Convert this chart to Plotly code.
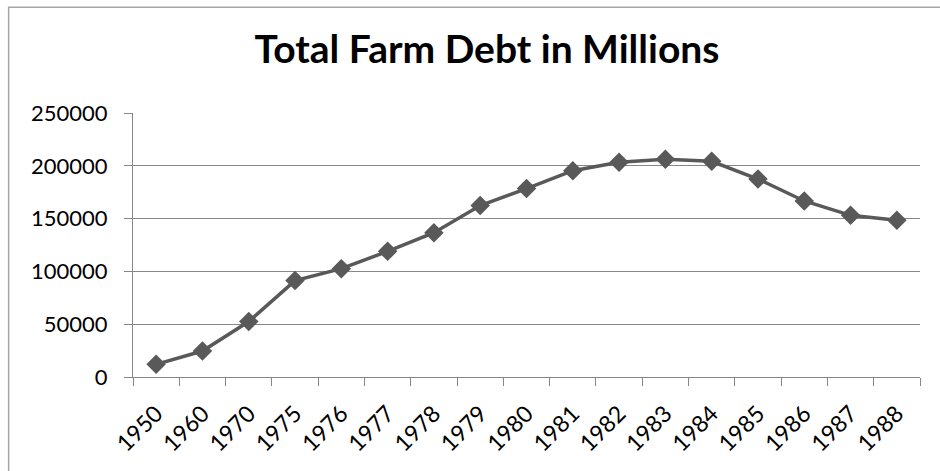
import plotly.graph_objects as go

years = ["1950", "1960", "1970", "1975", "1976", "1977", "1978", "1979", "1980",
         "1981", "1982", "1983", "1984", "1985", "1986", "1987", "1988"]
debt = [12000, 24600, 52500, 91300, 102600, 119000, 136700, 162300, 178400,
        195400, 203300, 206100, 204200, 187500, 166700, 153100, 148400]
y_ticks = [0, 50000, 100000, 150000, 200000, 250000]

W, H = 940, 471
L, R, T, B = 133.3, 920, 112.7, 376.7

fig = go.Figure()
fig.add_trace(go.Scatter(
    x=years, y=debt, mode="lines+markers",
    line=dict(color="#595959", width=3.5),
    marker=dict(symbol="diamond", size=15, color="#595959"),
    showlegend=False, hoverinfo="x+y",
))

axis_gray = "#878787"
fig.update_layout(
    width=W, height=H,
    margin=dict(l=L, r=W - R, t=T, b=H - B, pad=0),
    paper_bgcolor="white", plot_bgcolor="white",
    font=dict(family="Lato", size=22, color="black"),
    title=dict(text="<b>Total Farm Debt in Millions</b>",
               font=dict(family="Lato", size=39, color="black"),
               x=487 / W, xanchor="center", xref="container",
               y=1 - 49 / H, yanchor="middle", yref="container"),
    xaxis=dict(type="category", tickangle=-45, tickson="boundaries",
               ticks="outside", ticklen=8, tickcolor=axis_gray,
               showline=True, linecolor=axis_gray, linewidth=1.3,
               showgrid=False, zeroline=False, ticklabelstandoff=13,
               tickfont=dict(family="Lato", size=23, color="black"),
               range=[-0.5, len(years) - 0.5]),
    yaxis=dict(range=[0, 250000], tickvals=y_ticks,
               ticktext=[str(v) for v in y_ticks],
               ticks="outside", ticklen=8, tickcolor=axis_gray,
               showline=True, linecolor=axis_gray, linewidth=1.3,
               showgrid=True, gridcolor=axis_gray, gridwidth=1.3,
               zeroline=False, ticklabelstandoff=12,
               tickfont=dict(family="Lato", size=22, color="black")),
)

pw, ph = R - L, B - T
fig.add_shape(type="rect", xref="paper", yref="paper",
              x0=(9 - L) / pw, x1=(W + 20 - L) / pw,
              y0=(B - (H + 20)) / ph, y1=(B - 7) / ph,
              line=dict(color="#a6a6a6", width=1.5), fillcolor="rgba(0,0,0,0)",
              layer="below")

fig.write_html("out.html")
